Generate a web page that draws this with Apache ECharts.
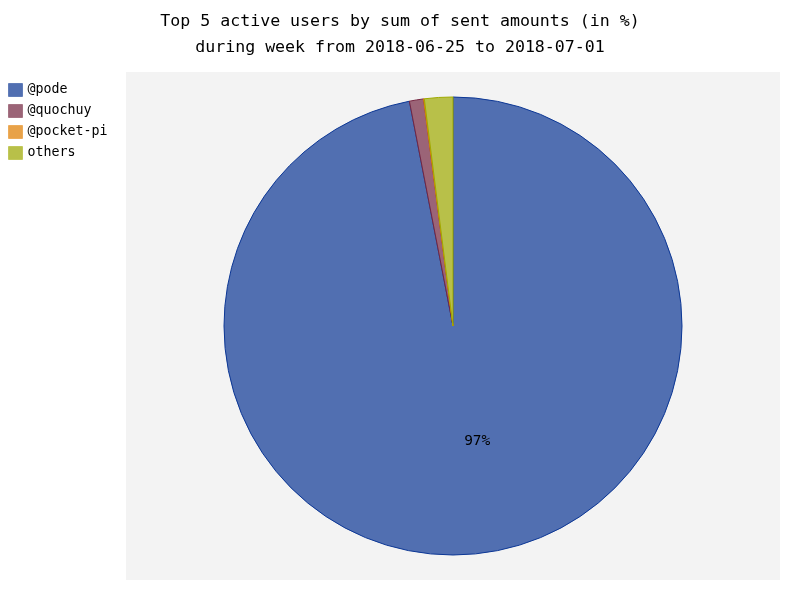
<!DOCTYPE html>
<html>
<head>
<meta charset="utf-8">
<script src="https://cdn.jsdelivr.net/npm/echarts@6/dist/echarts.min.js"></script>
<style>html,body{margin:0;padding:0;background:#fff}#c{width:800px;height:600px}</style>
</head>
<body>
<div id="c"></div>
<script>
var titleLines = ['Top 5 active users by sum of sent amounts (in %)', 'during week from 2018-06-25 to 2018-07-01'];
var categories = ['@pode', '@quochuy', '@pocket-pi', 'others'];
var values = [97.0, 1.0, 0.05, 2.0];
var fillColors = ['#516fb1', '#9b6477', '#e8a249', '#b8c049'];
var strokeColors = ['rgb(12,55,149)', 'rgb(117,38,65)', 'rgb(228,127,0)', 'rgb(159,170,0)'];
var legendBorders = ['rgba(12,55,149,0.45)', 'rgba(117,38,65,0.45)', 'rgba(228,127,0,0.45)', 'rgba(159,170,0,0.45)'];

var font = 'DejaVu Sans Mono';
var chart = echarts.init(document.getElementById('c'), null, {renderer: 'canvas'});
var total = values.reduce(function (a, b) { return a + b; }, 0);
var data = categories.map(function (c, i) {
  return {
    name: c,
    value: values[i],
    itemStyle: {color: fillColors[i], borderColor: strokeColors[i], borderWidth: 1}
  };
});
var legendData = categories.map(function (c, i) {
  return {name: c, itemStyle: {color: fillColors[i], borderColor: legendBorders[i], borderWidth: 1}};
});
chart.setOption({
  animation: false,
  backgroundColor: '#ffffff',
  title: {
    text: titleLines.join('\n'),
    left: 'center',
    top: 4,
    textStyle: {fontFamily: font, fontSize: 16.6, fontWeight: 'normal', color: '#000', lineHeight: 26}
  },
  graphic: [{
    type: 'rect', z: -10, silent: true,
    shape: {x: 126, y: 72, width: 654, height: 508},
    style: {fill: '#f3f3f3'}
  }],
  legend: {
    orient: 'vertical',
    left: 3,
    top: 78,
    itemWidth: 14,
    itemHeight: 13,
    itemGap: 7,
    icon: 'rect',
    selectedMode: false,
    textStyle: {fontFamily: font, fontSize: 13.3, color: '#000'},
    data: legendData
  },
  series: [{
    type: 'pie',
    center: [453, 326],
    radius: [0, 229],
    startAngle: 90,
    clockwise: true,
    avoidLabelOverlap: false,
    emphasis: {disabled: true},
    label: {
      show: true,
      position: 'inside',
      fontFamily: font,
      fontSize: 14.5,
      color: '#000',
      offset: [13, -2],
      formatter: function (p) {
        var pct = p.value / total * 100;
        return pct >= 5 ? Math.round(pct) + '%' : '';
      }
    },
    labelLine: {show: false},
    data: data
  }]
});
</script>
</body>
</html>
